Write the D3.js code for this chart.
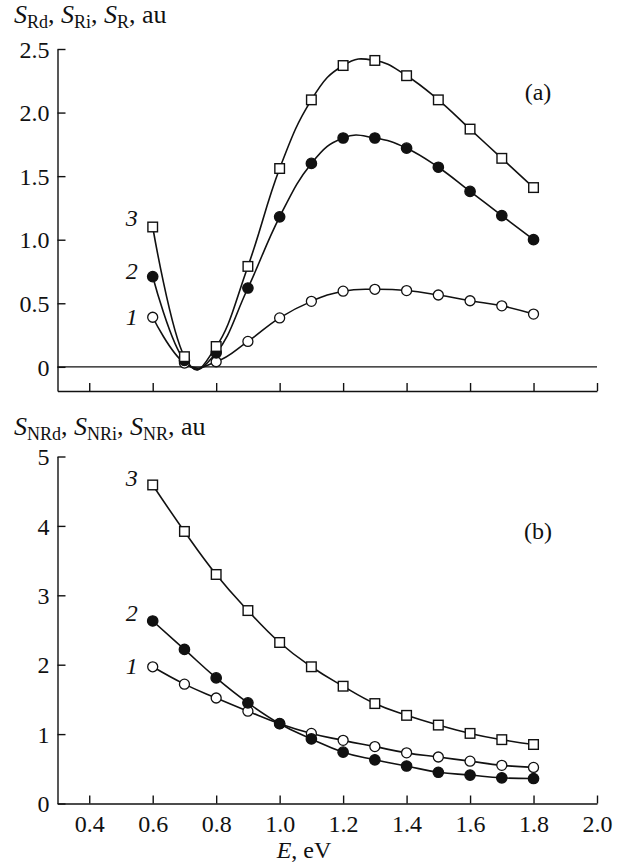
<!DOCTYPE html>
<html>
<head>
<meta charset="utf-8">
<script src="https://cdn.jsdelivr.net/npm/d3@7"></script>
<style>
  html, body { margin: 0; padding: 0; background: #fff; }
  svg { display: block; }
  text { font-family: "Liberation Serif", "Times New Roman", Tinos, serif; fill: #111; }
</style>
</head>
<body>
<svg id="chart" width="622" height="865"></svg>
<script>
// ---------------- data ----------------
const energy = [0.6, 0.7, 0.8, 0.9, 1.0, 1.1, 1.2, 1.3, 1.4, 1.5, 1.6, 1.7, 1.8];

// panel (a): S_Rd (1), S_Ri (2), S_R (3)
const topCurve1 = [0.39, 0.03, 0.04, 0.20, 0.385, 0.515, 0.595, 0.61, 0.60, 0.565, 0.52, 0.48, 0.415];
const topCurve2 = [0.71, 0.05, 0.11, 0.62, 1.18, 1.60, 1.80, 1.80, 1.72, 1.57, 1.38, 1.19, 1.00];
const topCurve3 = [1.10, 0.08, 0.16, 0.79, 1.56, 2.10, 2.37, 2.41, 2.29, 2.10, 1.87, 1.64, 1.41];

// panel (b): S_NRd (1), S_NRi (2), S_NR (3)
const bottomCurve1 = [1.97, 1.72, 1.52, 1.33, 1.15, 1.01, 0.91, 0.82, 0.73, 0.67, 0.61, 0.55, 0.52];
const bottomCurve2 = [2.63, 2.22, 1.81, 1.45, 1.15, 0.93, 0.74, 0.63, 0.54, 0.45, 0.41, 0.37, 0.36];
const bottomCurve3 = [4.59, 3.92, 3.30, 2.78, 2.32, 1.97, 1.69, 1.44, 1.27, 1.13, 1.01, 0.92, 0.85];

const xTicks = [0.4, 0.6, 0.8, 1.0, 1.2, 1.4, 1.6, 1.8, 2.0];
const xTickLabels = ["0.4", "0.6", "0.8", "1.0", "1.2", "1.4", "1.6", "1.8", "2.0"];
const topYTicks = [0, 0.5, 1.0, 1.5, 2.0, 2.5];
const topYTickLabels = ["0", "0.5", "1.0", "1.5", "2.0", "2.5"];
const bottomYTicks = [0, 1, 2, 3, 4, 5];
const bottomYTickLabels = ["0", "1", "2", "3", "4", "5"];
const curveNames = ["1", "2", "3"];
const markerKinds = ["openCircle", "filledCircle", "square"];
const panelTags = ["(a)", "(b)"];

// ---------------- layout ----------------
const svg = d3.select("#chart");
const FS = 24;
const x = d3.scaleLinear().domain([0.3, 2.0]).range([57.5, 597]);
const yTop = d3.scaleLinear().domain([-0.19, 2.5]).range([391, 49]);
const yBot = d3.scaleLinear().domain([0, 5]).range([803.5, 456.5]);

const line = (ys) => d3.line()
  .x((d, i) => x(energy[i]))
  .y(d => ys(d))
  .curve(d3.curveCardinal.tension(-0.3));

function styleAxis(g) {
  g.selectAll("path.domain").attr("stroke", "#111").attr("stroke-width", 1.4);
  g.selectAll(".tick line").attr("stroke", "#111").attr("stroke-width", 1.4);
  g.selectAll(".tick text")
    .attr("font-family", "'Liberation Serif', 'Times New Roman', Tinos, serif")
    .attr("font-size", FS).attr("fill", "#111");
  g.attr("font-family", null).attr("font-size", null);
}

function drawMarkers(g, vals, ys, kind) {
  const sel = g.selectAll(null).data(vals).enter();
  if (kind === "square") {
    sel.append("rect")
      .attr("x", (d, i) => x(energy[i]) - 4.8)
      .attr("y", d => ys(d) - 4.8)
      .attr("width", 9.6).attr("height", 9.6)
      .attr("fill", "#fff").attr("stroke", "#111").attr("stroke-width", 1.4);
  } else {
    sel.append("circle")
      .attr("cx", (d, i) => x(energy[i]))
      .attr("cy", d => ys(d))
      .attr("r", kind === "filledCircle" ? 5.2 : 5)
      .attr("fill", kind === "filledCircle" ? "#111" : "#fff")
      .attr("stroke", "#111").attr("stroke-width", 1.3);
  }
}

function drawPanel(curves, ys, yTicks, yLabels, showXLabels, labelOffsets, tag, tagY) {
  const g = svg.append("g");
  const ya = g.append("g").attr("transform", `translate(${x.range()[0]},0)`)
    .call(d3.axisLeft(ys).tickValues(yTicks).tickFormat((d, i) => yLabels[i])
      .tickSizeInner(-8).tickSizeOuter(0).tickPadding(8));
  styleAxis(ya);
  ya.selectAll(".tick text").attr("dy", "0.34em");
  const xa = g.append("g").attr("transform", `translate(0,${ys.range()[0]})`)
    .call(d3.axisBottom(x).tickValues(xTicks)
      .tickFormat((d, i) => showXLabels ? xTickLabels[i] : "")
      .tickSizeInner(-8).tickSizeOuter(0).tickPadding(11));
  styleAxis(xa);
  xa.selectAll(".tick text").attr("dy", "0.71em");
  if (!showXLabels) xa.selectAll(".tick text").remove();
  curves.forEach((vals) => {
    g.append("path").datum(vals)
      .attr("d", line(ys))
      .attr("fill", "none").attr("stroke", "#111").attr("stroke-width", 1.6);
  });
  curves.forEach((vals, k) => drawMarkers(g.append("g"), vals, ys, markerKinds[k]));
  curves.forEach((vals, k) => {
    g.append("text")
      .attr("x", x(energy[0]) - 21)
      .attr("y", ys(vals[0]) + labelOffsets[k])
      .attr("text-anchor", "middle").attr("dy", "0.34em")
      .attr("font-size", FS).attr("font-style", "italic")
      .text(curveNames[k]);
  });
  g.append("text").attr("x", 538).attr("y", tagY).attr("text-anchor", "middle")
    .attr("dy", "0.34em").attr("font-size", FS).text(tag);
  return g;
}

const gTop = drawPanel([topCurve1, topCurve2, topCurve3], yTop, topYTicks, topYTickLabels,
  false, [0, -6, -9], panelTags[0], 92);
gTop.insert("line", ":first-child")
  .attr("x1", x.range()[0]).attr("x2", x.range()[1])
  .attr("y1", yTop(0)).attr("y2", yTop(0))
  .attr("stroke", "#111").attr("stroke-width", 1.4);

drawPanel([bottomCurve1, bottomCurve2, bottomCurve3], yBot, bottomYTicks, bottomYTickLabels,
  true, [-1, -8, -7], panelTags[1], 531);

function title(xPos, yPos, parts) {
  const t = svg.append("text").attr("x", xPos).attr("y", yPos).attr("font-size", 26);
  let pending = 0;
  parts.forEach(p => {
    const sp = t.append("tspan");
    if (p.sub) {
      sp.attr("font-size", 18).attr("dy", 5 + pending).text(p.sub);
      pending = -5;
    } else {
      if (pending) sp.attr("dy", pending);
      pending = 0;
      if (p.it) sp.attr("font-style", "italic").text(p.it);
      else sp.text(p.t);
    }
  });
}
title(14, 23, [{it: "S"}, {sub: "Rd"}, {t: ", "}, {it: "S"}, {sub: "Ri"}, {t: ", "}, {it: "S"}, {sub: "R"}, {t: ", au"}]);
title(14, 435, [{it: "S"}, {sub: "NRd"}, {t: ", "}, {it: "S"}, {sub: "NRi"}, {t: ", "}, {it: "S"}, {sub: "NR"}, {t: ", au"}]);

const xt = svg.append("text").attr("x", 304).attr("y", 858).attr("text-anchor", "middle").attr("font-size", FS);
xt.append("tspan").attr("font-style", "italic").text("E");
xt.append("tspan").text(", eV");
</script>
</body>
</html>
